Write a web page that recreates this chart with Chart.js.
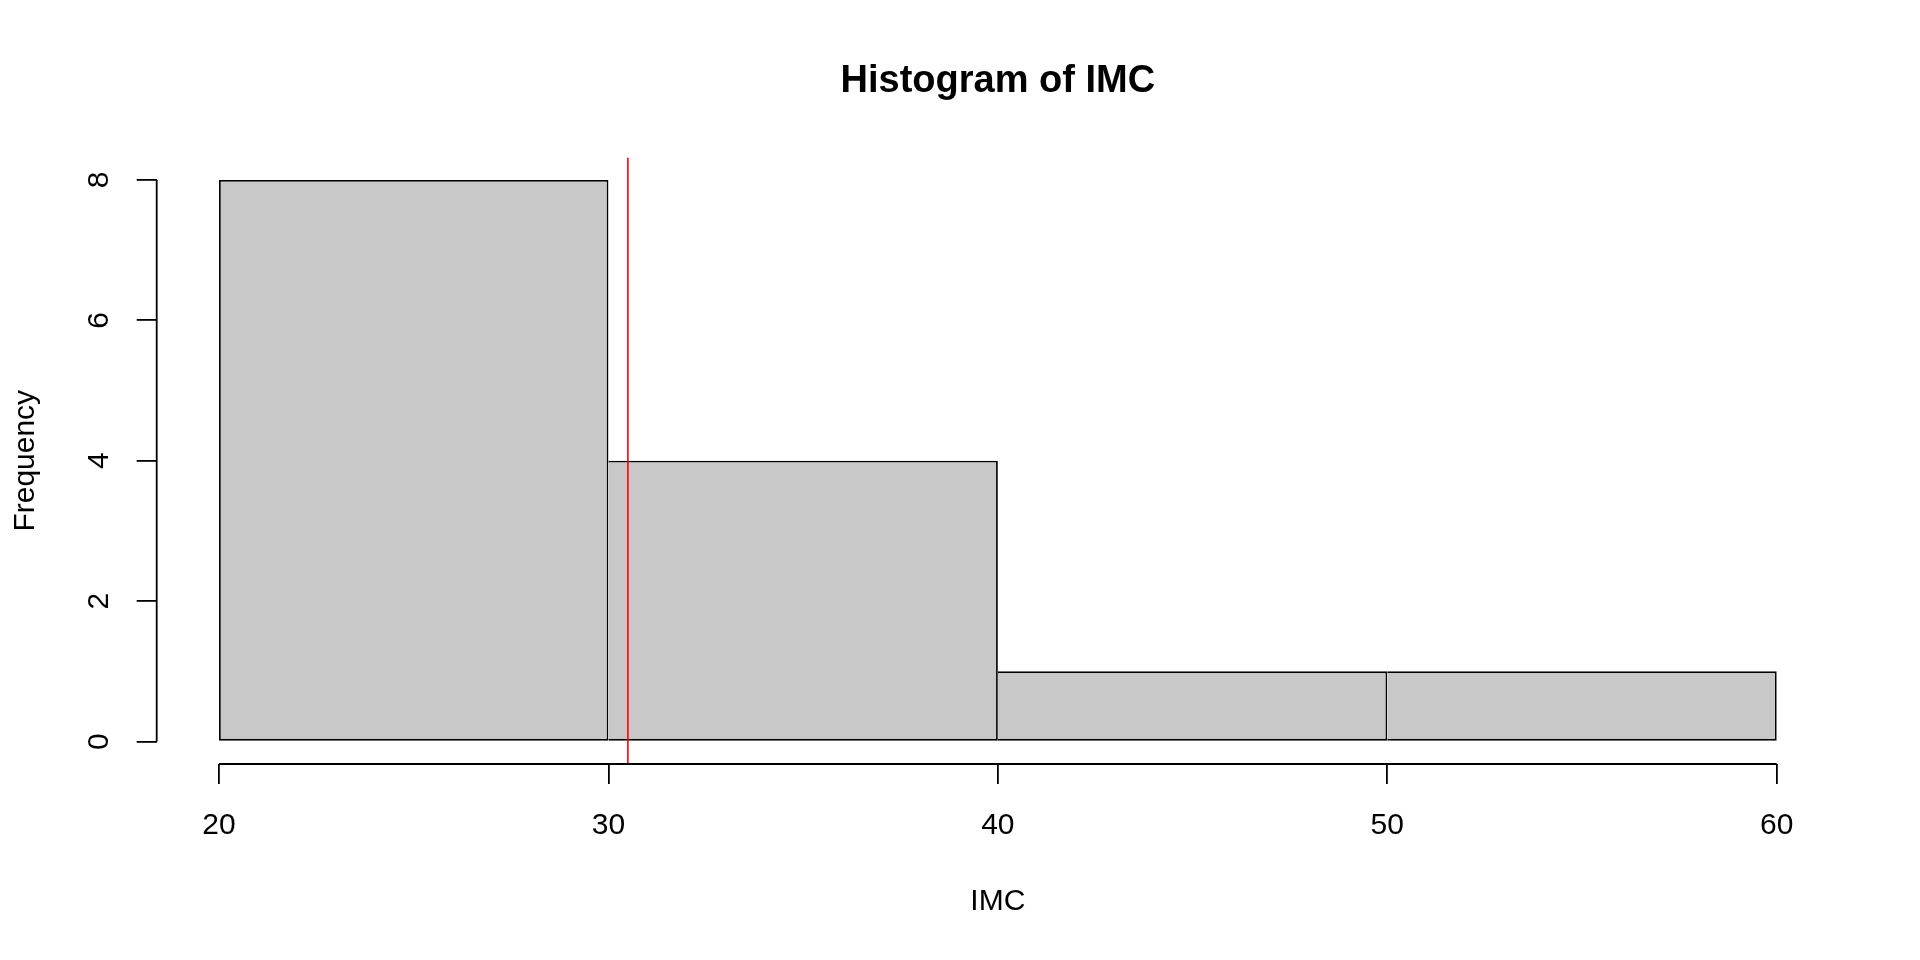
<!DOCTYPE html>
<html>
<head>
<meta charset="utf-8">
<script src="https://cdn.jsdelivr.net/npm/chart.js@4.4.1/dist/chart.umd.min.js"></script>
<style>
  html, body { margin: 0; padding: 0; background: #ffffff; }
  #wrap { width: 1920px; height: 960px; }
  canvas { display: block; background: #ffffff; }
</style>
</head>
<body>
<div id="wrap"><canvas id="c" width="1920" height="960"></canvas></div>
<script>
// ---- data ----
const binEdges = [20, 30, 40, 50, 60];
const counts = [8, 4, 1, 1];
const meanIMC = 30.5;
const xTicks = [20, 30, 40, 50, 60];
const yTicks = [0, 2, 4, 6, 8];
const xRange = [18.4, 61.6];
const yRange = [-0.32, 8.32];
const chartTitle = 'Histogram of IMC';
const xLabel = 'IMC';
const yLabel = 'Frequency';

// ---- derived ----
const barData = counts.map((c, i) => ({ x: (binEdges[i] + binEdges[i + 1]) / 2, y: c }));
const FONT = "'Liberation Sans', Arial, Helvetica, sans-serif";
const LW = 1.8;

const rAxes = {
  id: 'rAxes',
  afterDraw(chart) {
    const ctx = chart.ctx;
    const xs = chart.scales.x, ys = chart.scales.y, a = chart.chartArea;
    ctx.save();
    ctx.strokeStyle = '#000';
    ctx.lineWidth = LW;
    ctx.beginPath();
    ctx.moveTo(xs.getPixelForValue(xTicks[0]), a.bottom);
    ctx.lineTo(xs.getPixelForValue(xTicks[xTicks.length - 1]), a.bottom);
    ctx.moveTo(a.left, ys.getPixelForValue(yTicks[0]));
    ctx.lineTo(a.left, ys.getPixelForValue(yTicks[yTicks.length - 1]));
    ctx.stroke();
    ctx.restore();
  }
};

new Chart(document.getElementById('c'), {
  type: 'bar',
  data: {
    datasets: [
      {
        type: 'bar',
        data: barData,
        backgroundColor: '#c8c8c8',
        borderColor: '#000000',
        borderWidth: (ctx) => ({ top: LW, bottom: LW, right: LW, left: ctx.dataIndex === 0 ? LW : 0 }),
        borderSkipped: false,
        barPercentage: 1,
        categoryPercentage: 1,
        inflateAmount: 0,
        order: 2
      },
      {
        type: 'line',
        data: [{ x: meanIMC, y: yRange[0] }, { x: meanIMC, y: yRange[1] }],
        borderColor: '#ff0000',
        borderWidth: 1.6,
        pointRadius: 0,
        fill: false,
        order: 1
      }
    ]
  },
  options: {
    responsive: false,
    animation: false,
    layout: { padding: { top: 0, left: 0, right: 81, bottom: 0 } },
    plugins: {
      legend: { display: false },
      tooltip: { enabled: false },
      title: {
        display: true,
        text: chartTitle,
        fullSize: false,
        color: '#000',
        font: { family: FONT, size: 38, weight: 'bold' },
        padding: { top: 59, bottom: 52.9 }
      }
    },
    scales: {
      x: {
        type: 'linear',
        min: xRange[0],
        max: xRange[1],
        offset: false,
        afterBuildTicks: (s) => { s.ticks = xTicks.map(v => ({ value: v })); },
        afterFit: (s) => { s.height = 196; },
        grid: { offset: false, drawOnChartArea: false, drawTicks: true, tickLength: 20, color: '#000', lineWidth: LW },
        border: { display: false },
        ticks: { color: '#000', font: { family: FONT, size: 30 }, padding: 23.5, maxRotation: 0, autoSkip: false },
        title: { display: true, text: xLabel, color: '#000', font: { family: FONT, size: 30 }, padding: { top: 0, bottom: 40 } }
      },
      y: {
        type: 'linear',
        min: yRange[0],
        max: yRange[1],
        afterBuildTicks: (s) => { s.ticks = yTicks.map(v => ({ value: v })); },
        afterFit: (s) => { s.width = 156.7; },
        grid: { drawOnChartArea: false, drawTicks: true, tickLength: 20, color: '#000', lineWidth: LW },
        border: { display: false },
        ticks: { color: '#000', font: { family: FONT, size: 30 }, padding: 28.6, minRotation: 90, maxRotation: 90, crossAlign: 'center', autoSkip: false },
        title: { display: true, text: yLabel, color: '#000', font: { family: FONT, size: 30 }, padding: { top: 7.5, bottom: 7.5 } }
      }
    }
  },
  plugins: [rAxes]
});
</script>
</body>
</html>
